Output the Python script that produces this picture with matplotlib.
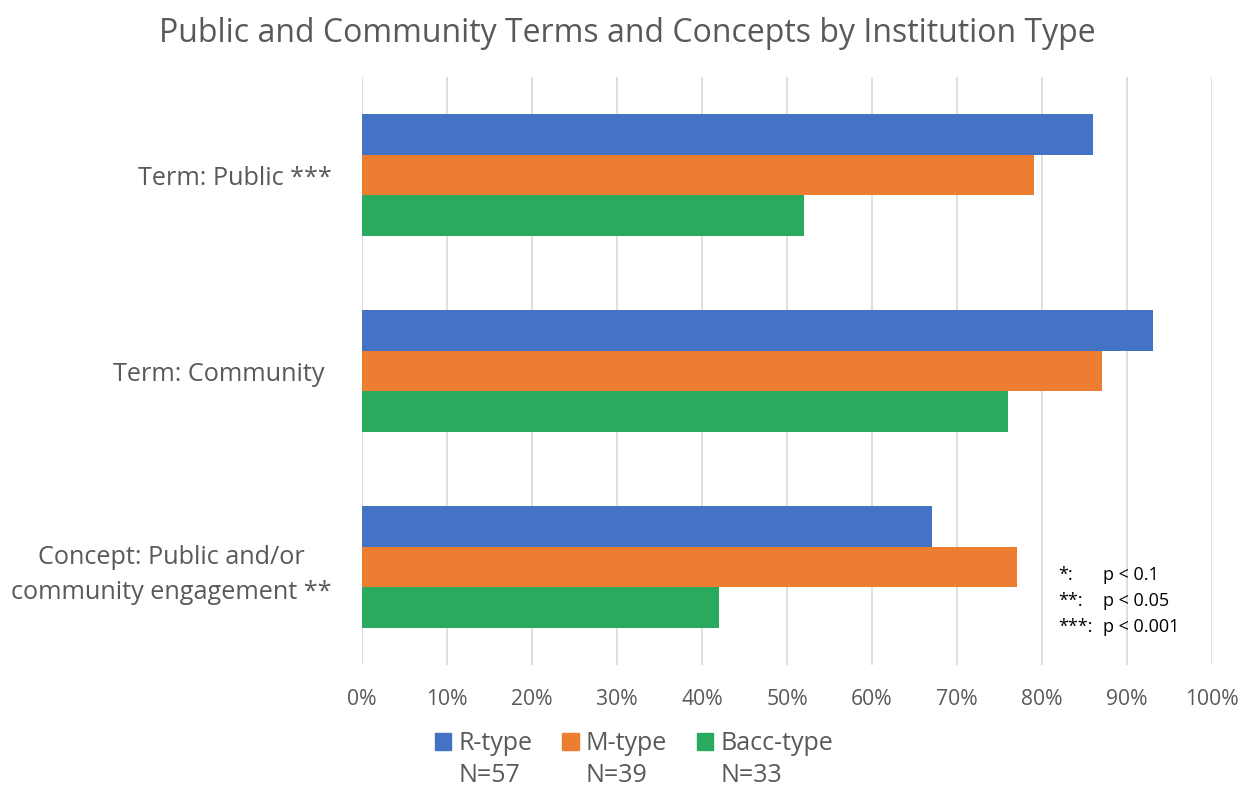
import matplotlib.pyplot as plt
import numpy as np
from matplotlib.patches import Patch
from matplotlib.ticker import PercentFormatter

categories = ['Term: Public ***', 'Term: Community ', 'Concept: Public and/or\ncommunity engagement **']
series_names = ['R-type', 'M-type', 'Bacc-type']
series_n = ['N=57', 'N=39', 'N=33']
r_type = [86, 93, 67]
m_type = [79, 87, 77]
bacc_type = [52, 76, 42]
sig_stars = ['*:', '**:', '***:']
sig_levels = ['p < 0.1', 'p < 0.05', 'p < 0.001']

COLORS = ['#4472C4', '#ED7D31', '#2AAA5E']
TEXT_GRAY = '#595959'

plt.rcParams['font.family'] = ['Open Sans', 'DejaVu Sans']

fig = plt.figure(figsize=(12.43, 7.93), dpi=100)
ax = fig.add_axes([0.2912, 0.1614, 0.6839, 0.7415])

bar_h = 0.207
y = np.arange(len(categories))
for i, vals in enumerate((r_type, m_type, bacc_type)):
    ax.barh(y + (i - 1) * bar_h, vals, height=bar_h, color=COLORS[i], zorder=3)

ax.set_xlim(0, 100)
ax.set_ylim(2.5, -0.5)
ax.set_xticks(np.arange(0, 101, 10))
ax.xaxis.set_major_formatter(PercentFormatter(decimals=0))
ax.set_yticks(y, labels=categories)
for lbl in ax.get_yticklabels():
    lbl.set_multialignment('center')
    lbl.set_linespacing(1.5)
ax.tick_params(axis='x', length=0, pad=17, labelsize=15.2, labelcolor=TEXT_GRAY)
ax.tick_params(axis='y', length=0, pad=22, labelsize=18.2, labelcolor=TEXT_GRAY)
ax.grid(axis='x', color='#D9D9D9', lw=1.2, zorder=0)
for s in ax.spines.values():
    s.set_visible(False)

fig.suptitle('Public and Community Terms and Concepts by Institution Type',
             x=0.505, y=0.979, fontsize=23, color=TEXT_GRAY)

# legend: first row colour squares, second row sample sizes under each label
handles, labels = [], []
for c, name, n in zip(COLORS, series_names, series_n):
    handles += [Patch(color=c), Patch(color='none')]
    labels += [name, n]
leg = fig.legend(handles, labels, ncol=3, loc='center', bbox_to_anchor=(0.51, 0.042),
                 frameon=False, fontsize=18, handlelength=0.65, handleheight=0.65,
                 handletextpad=0.28, columnspacing=1.2, labelspacing=0.3,
                 borderpad=0)
for t in leg.get_texts():
    t.set_color(TEXT_GRAY)

for i, (st, lv) in enumerate(zip(sig_stars, sig_levels)):
    yy = 1 - (575 + i * 26) / 793
    fig.text(1058 / 1243, yy, st, fontsize=13, va='center')
    fig.text(1103 / 1243, yy, lv, fontsize=13, va='center')

fig.savefig('out.png', dpi=100)
